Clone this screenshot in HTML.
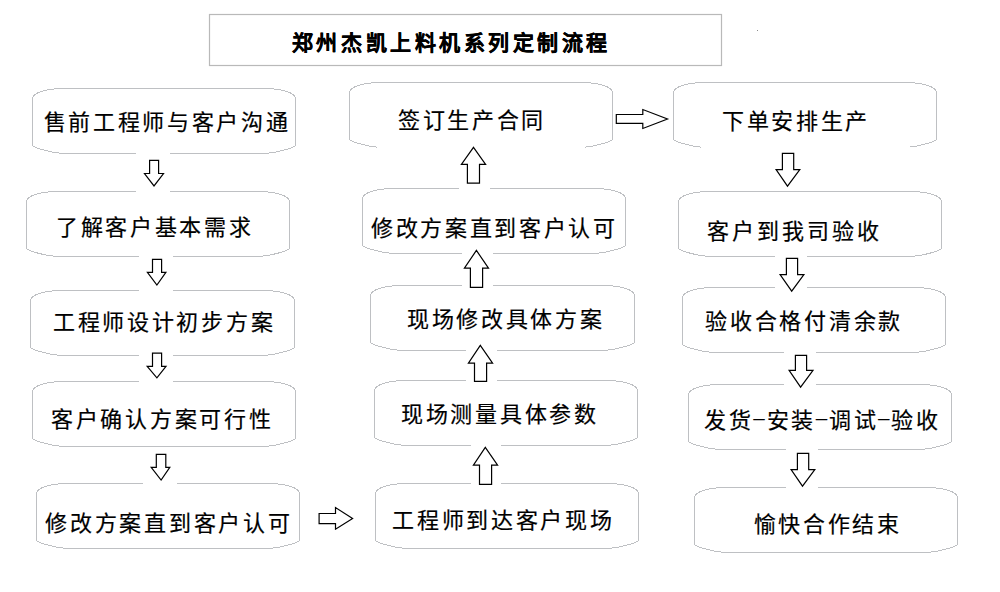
<!DOCTYPE html>
<html lang="zh-CN"><head><meta charset="utf-8"><style>
html,body{margin:0;padding:0;background:#fff;width:1000px;height:592px;overflow:hidden}
body{position:relative;font-family:"Liberation Serif",serif}
svg{position:absolute;left:0;top:0}
.t{position:absolute;white-space:nowrap;font-size:22px;line-height:22px;letter-spacing:2.7px;color:#000;font-weight:400;-webkit-text-stroke:0.2px #000}
.t i{font-style:normal;display:inline-block;width:13px;position:relative;top:-3px;font-family:"Liberation Serif",serif}
.ls3{letter-spacing:2.95px}
.title{position:absolute;white-space:nowrap;font-size:21px;line-height:21px;letter-spacing:3.55px;color:#000;font-weight:900;-webkit-text-stroke:0.25px #000}
</style></head><body>
<svg width="1000" height="592" viewBox="0 0 1000 592">
<path d="M32.5,98.5 A31,10 0 0 1 63.5,88.5 L264.5,88.5 A31,10 0 0 1 295.5,98.5 L295.5,145.5 C294.5,147.5 280.5,152.0 265.5,153.5 L62.5,153.5 C47.5,152.0 33.5,147.5 32.5,145.5 Z" fill="#fff" stroke="#bec0c3" stroke-width="1" shape-rendering="crispEdges"/>
<path d="M26.5,201.5 A31,10 0 0 1 57.5,191.5 L258.5,191.5 A31,10 0 0 1 289.5,201.5 L289.5,248.5 C288.5,250.5 274.5,255.0 259.5,256.5 L56.5,256.5 C41.5,255.0 27.5,250.5 26.5,248.5 Z" fill="#fff" stroke="#bec0c3" stroke-width="1" shape-rendering="crispEdges"/>
<path d="M30.5,300.5 A31,10 0 0 1 61.5,290.5 L263.5,290.5 A31,10 0 0 1 294.5,300.5 L294.5,347.5 C293.5,349.5 279.5,354.0 264.5,355.5 L60.5,355.5 C45.5,354.0 31.5,349.5 30.5,347.5 Z" fill="#fff" stroke="#bec0c3" stroke-width="1" shape-rendering="crispEdges"/>
<path d="M32.5,391.5 A31,10 0 0 1 63.5,381.5 L264.5,381.5 A31,10 0 0 1 295.5,391.5 L295.5,438.5 C294.5,440.5 280.5,445.0 265.5,446.5 L62.5,446.5 C47.5,445.0 33.5,440.5 32.5,438.5 Z" fill="#fff" stroke="#bec0c3" stroke-width="1" shape-rendering="crispEdges"/>
<path d="M36.5,493.5 A31,10 0 0 1 67.5,483.5 L268.5,483.5 A31,10 0 0 1 299.5,493.5 L299.5,540.5 C298.5,542.5 284.5,547.0 269.5,548.5 L66.5,548.5 C51.5,547.0 37.5,542.5 36.5,540.5 Z" fill="#fff" stroke="#bec0c3" stroke-width="1" shape-rendering="crispEdges"/>
<path d="M349.5,92.5 A31,10 0 0 1 380.5,82.5 L581.5,82.5 A31,10 0 0 1 612.5,92.5 L612.5,139.5 C611.5,141.5 597.5,146.0 582.5,147.5 L379.5,147.5 C364.5,146.0 350.5,141.5 349.5,139.5 Z" fill="#fff" stroke="#bec0c3" stroke-width="1" shape-rendering="crispEdges"/>
<path d="M362.5,198.5 A31,10 0 0 1 393.5,188.5 L594.5,188.5 A31,10 0 0 1 625.5,198.5 L625.5,245.5 C624.5,247.5 610.5,252.0 595.5,253.5 L392.5,253.5 C377.5,252.0 363.5,247.5 362.5,245.5 Z" fill="#fff" stroke="#bec0c3" stroke-width="1" shape-rendering="crispEdges"/>
<path d="M370.5,295.5 A31,10 0 0 1 401.5,285.5 L603.5,285.5 A31,10 0 0 1 634.5,295.5 L634.5,342.5 C633.5,344.5 619.5,349.0 604.5,350.5 L400.5,350.5 C385.5,349.0 371.5,344.5 370.5,342.5 Z" fill="#fff" stroke="#bec0c3" stroke-width="1" shape-rendering="crispEdges"/>
<path d="M374.5,390.5 A31,10 0 0 1 405.5,380.5 L606.5,380.5 A31,10 0 0 1 637.5,390.5 L637.5,437.5 C636.5,439.5 622.5,444.0 607.5,445.5 L404.5,445.5 C389.5,444.0 375.5,439.5 374.5,437.5 Z" fill="#fff" stroke="#bec0c3" stroke-width="1" shape-rendering="crispEdges"/>
<path d="M375.5,493.5 A31,10 0 0 1 406.5,483.5 L607.5,483.5 A31,10 0 0 1 638.5,493.5 L638.5,540.5 C637.5,542.5 623.5,547.0 608.5,548.5 L405.5,548.5 C390.5,547.0 376.5,542.5 375.5,540.5 Z" fill="#fff" stroke="#bec0c3" stroke-width="1" shape-rendering="crispEdges"/>
<path d="M673.5,92.5 A31,10 0 0 1 704.5,82.5 L905.5,82.5 A31,10 0 0 1 936.5,92.5 L936.5,139.5 C935.5,141.5 921.5,146.0 906.5,147.5 L703.5,147.5 C688.5,146.0 674.5,141.5 673.5,139.5 Z" fill="#fff" stroke="#bec0c3" stroke-width="1" shape-rendering="crispEdges"/>
<path d="M678.5,201.5 A31,10 0 0 1 709.5,191.5 L910.5,191.5 A31,10 0 0 1 941.5,201.5 L941.5,248.5 C940.5,250.5 926.5,255.0 911.5,256.5 L708.5,256.5 C693.5,255.0 679.5,250.5 678.5,248.5 Z" fill="#fff" stroke="#bec0c3" stroke-width="1" shape-rendering="crispEdges"/>
<path d="M682.5,297.5 A31,10 0 0 1 713.5,287.5 L914.5,287.5 A31,10 0 0 1 945.5,297.5 L945.5,344.5 C944.5,346.5 930.5,351.0 915.5,352.5 L712.5,352.5 C697.5,351.0 683.5,346.5 682.5,344.5 Z" fill="#fff" stroke="#bec0c3" stroke-width="1" shape-rendering="crispEdges"/>
<path d="M688.5,394.5 A31,10 0 0 1 719.5,384.5 L920.5,384.5 A31,10 0 0 1 951.5,394.5 L951.5,441.5 C950.5,443.5 936.5,448.0 921.5,449.5 L718.5,449.5 C703.5,448.0 689.5,443.5 688.5,441.5 Z" fill="#fff" stroke="#bec0c3" stroke-width="1" shape-rendering="crispEdges"/>
<path d="M694.5,497.5 A31,10 0 0 1 725.5,487.5 L926.5,487.5 A31,10 0 0 1 957.5,497.5 L957.5,544.5 C956.5,546.5 942.5,551.0 927.5,552.5 L724.5,552.5 C709.5,551.0 695.5,546.5 694.5,544.5 Z" fill="#fff" stroke="#bec0c3" stroke-width="1" shape-rendering="crispEdges"/>
<rect x="136" y="150" width="34" height="45" fill="#fff"/>
<rect x="139" y="253" width="34" height="41" fill="#fff"/>
<rect x="139" y="350" width="34" height="35" fill="#fff"/>
<rect x="143" y="450" width="34" height="40" fill="#fff"/>
<rect x="459" y="186" width="31" height="6" fill="#fff"/>
<rect x="377" y="144" width="208" height="7" fill="#fff"/>
<rect x="462" y="250" width="31" height="40" fill="#fff"/>
<rect x="466" y="345" width="31" height="39" fill="#fff"/>
<rect x="471" y="442" width="30" height="45" fill="#fff"/>
<rect x="701" y="144" width="209" height="7" fill="#fff"/>
<rect x="775" y="253" width="32" height="38" fill="#fff"/>
<rect x="784" y="349" width="32" height="39" fill="#fff"/>
<rect x="786" y="446" width="32" height="45" fill="#fff"/>
<path d="M149.6,160.3 L158.6,160.3 L158.6,173.5 L163.5,173.5 L154,185.9 L144.5,173.5 L149.6,173.5 Z" fill="#fff" stroke="#000" stroke-width="1.2" stroke-linejoin="miter"/>
<path d="M152.5,259.3 L161.6,259.3 L161.6,272.4 L165.9,272.4 L156.9,285 L147.4,272.4 L152.5,272.4 Z" fill="#fff" stroke="#000" stroke-width="1.2" stroke-linejoin="miter"/>
<path d="M152.5,353.2 L161.6,353.2 L161.6,366.4 L166,366.4 L156.9,377.9 L147.2,366.4 L152.5,366.4 Z" fill="#fff" stroke="#000" stroke-width="1.2" stroke-linejoin="miter"/>
<path d="M156.3,454.4 L165.8,454.4 L165.8,467.4 L169.8,467.4 L161.1,480.1 L151.2,467.4 L156.3,467.4 Z" fill="#fff" stroke="#000" stroke-width="1.2" stroke-linejoin="miter"/>
<path d="M782.4,153.3 L793.7,153.3 L793.7,169.7 L799.8,169.7 L787.5,186.2 L776.1,169.7 L782.4,169.7 Z" fill="#fff" stroke="#000" stroke-width="1.2" stroke-linejoin="miter"/>
<path d="M786.4,258.3 L797.6,258.3 L797.6,274.7 L803.9,274.7 L791.7,291.2 L780.1,274.7 L786.4,274.7 Z" fill="#fff" stroke="#000" stroke-width="1.2" stroke-linejoin="miter"/>
<path d="M795.4,355.3 L806.6,355.3 L806.6,370.3 L813,370.3 L800.6,387.2 L789.1,370.3 L795.4,370.3 Z" fill="#fff" stroke="#000" stroke-width="1.2" stroke-linejoin="miter"/>
<path d="M797.4,453.3 L808.7,453.3 L808.7,469.7 L814.8,469.7 L802.5,486.2 L791.1,469.7 L797.4,469.7 Z" fill="#fff" stroke="#000" stroke-width="1.2" stroke-linejoin="miter"/>
<path d="M473.5,147.3 L485.6,164.4 L479.5,164.4 L479.5,183.2 L467.4,183.2 L467.4,164.4 L461.4,164.4 Z" fill="#fff" stroke="#000" stroke-width="1.2"/>
<path d="M476.4,250.4 L488.5,268.2 L482.6,268.2 L482.6,287.4 L470.4,287.4 L470.4,268.2 L464.4,268.2 Z" fill="#fff" stroke="#000" stroke-width="1.2"/>
<path d="M480.3,345.4 L492.6,363.2 L486.6,363.2 L486.6,381.3 L474.5,381.3 L474.5,363.2 L468.4,363.2 Z" fill="#fff" stroke="#000" stroke-width="1.2"/>
<path d="M485.3,447.3 L497.6,465.2 L491.6,465.2 L491.6,484.3 L479.5,484.3 L479.5,465.2 L473.4,465.2 Z" fill="#fff" stroke="#000" stroke-width="1.2"/>
<path d="M616.3,114.5 L642.8,114.5 L642.8,109.5 L667.5,119 L642.8,128.5 L642.8,123.3 L616.3,123.3 Z" fill="#fff" stroke="#000" stroke-width="1.2"/>
<path d="M319.1,513.5 L335.5,513.5 L335.5,507.6 L352.6,518.6 L335.5,529.2 L335.5,523.6 L319.1,523.6 Z" fill="#fff" stroke="#000" stroke-width="1.2"/>
<rect x="757" y="30" width="1" height="1" fill="#8c8c8c"/>
<rect x="209.5" y="14.5" width="512" height="51" fill="#fff" stroke="#b9b9b9" stroke-width="1.2"/>
</svg>
<div class="t" style="left:43.5px;top:112.3px">售前工程师与客户沟通</div>
<div class="t" style="left:55.9px;top:216.6px">了解客户基本需求</div>
<div class="t" style="left:53.0px;top:312.3px">工程师设计初步方案</div>
<div class="t" style="left:51.1px;top:408.8px">客户确认方案可行性</div>
<div class="t" style="left:45.4px;top:513.3px">修改方案直到客户认可</div>
<div class="t" style="left:398.0px;top:109.9px">签订生产合同</div>
<div class="t" style="left:370.9px;top:218.3px">修改方案直到客户认可</div>
<div class="t" style="left:406.9px;top:308.6px">现场修改具体方案</div>
<div class="t" style="left:401.1px;top:403.6px">现场测量具体参数</div>
<div class="t" style="left:392.2px;top:509.6px">工程师到达客户现场</div>
<div class="t" style="left:721.9px;top:110.7px">下单安排生产</div>
<div class="t ls3" style="left:707.0px;top:220.6px">客户到我司验收</div>
<div class="t" style="left:705.4px;top:311.2px">验收合格付清余款</div>
<div class="t" style="left:704.1px;top:409.9px">发货<i>–</i>安装<i>–</i>调试<i>–</i>验收</div>
<div class="t" style="left:753.5px;top:513.7px">愉快合作结束</div>
<div class="title" style="left:291.9px;top:33px">郑州杰凯上料机系列定制流程</div>
</body></html>
